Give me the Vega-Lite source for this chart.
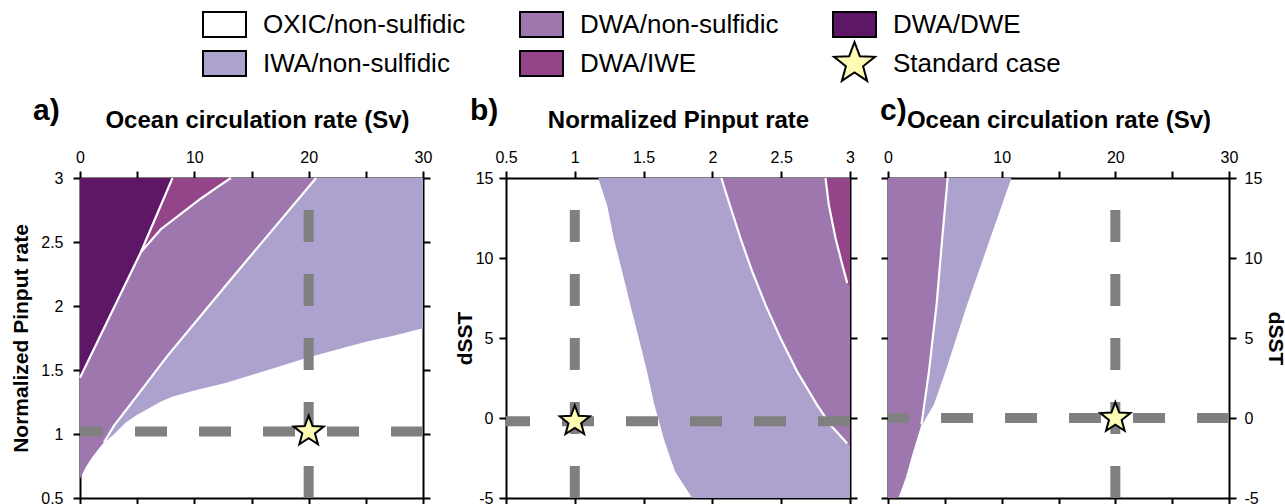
{
  "$schema": "https://vega.github.io/schema/vega-lite/v6.json",
  "padding": {"left": 10, "top": 2, "right": 0, "bottom": 0},
  "background": "white",
  "spacing": 22,
  "config": {
    "view": {"stroke": null},
    "axis": {
      "domainColor": "black", "domainWidth": 2, "tickColor": "black", "tickWidth": 2, "tickSize": 7,
      "labelFont": "Liberation Sans", "labelFontSize": 16, "labelColor": "black", "labelPadding": 6,
      "labelFlush": false, "labelOverlap": false,
      "titleFont": "Liberation Sans", "titleFontWeight": "bold", "titleColor": "black", "grid": false
    },
    "title": {"font": "Liberation Sans", "fontWeight": "bold", "fontSize": 30, "color": "black", "anchor": "start", "frame": "group"}
  },
  "datasets": {
    "legend": [
      {"cat": "OXIC/non-sulfidic"},
      {"cat": "DWA/non-sulfidic"},
      {"cat": "DWA/DWE"},
      {"cat": "IWA/non-sulfidic"},
      {"cat": "DWA/IWE"},
      {"cat": "Standard case"}
    ],
    "a_area": [
      {"r": "IWA", "x": 2.1, "lo": 0.93, "hi": 3}, {"r": "IWA", "x": 3, "lo": 1.0, "hi": 3}, {"r": "IWA", "x": 4, "lo": 1.09, "hi": 3},
      {"r": "IWA", "x": 5, "lo": 1.15, "hi": 3}, {"r": "IWA", "x": 6, "lo": 1.2, "hi": 3}, {"r": "IWA", "x": 7, "lo": 1.25, "hi": 3},
      {"r": "IWA", "x": 8, "lo": 1.29, "hi": 3}, {"r": "IWA", "x": 10, "lo": 1.34, "hi": 3}, {"r": "IWA", "x": 12.8, "lo": 1.4, "hi": 3},
      {"r": "IWA", "x": 15, "lo": 1.46, "hi": 3}, {"r": "IWA", "x": 17.5, "lo": 1.53, "hi": 3}, {"r": "IWA", "x": 20, "lo": 1.6, "hi": 3},
      {"r": "IWA", "x": 22.5, "lo": 1.66, "hi": 3}, {"r": "IWA", "x": 25, "lo": 1.72, "hi": 3}, {"r": "IWA", "x": 27.5, "lo": 1.77, "hi": 3},
      {"r": "IWA", "x": 30, "lo": 1.826, "hi": 3},
      {"r": "DWA", "x": 0, "lo": 0.65, "hi": 3}, {"r": "DWA", "x": 0.5, "lo": 0.74, "hi": 3}, {"r": "DWA", "x": 1, "lo": 0.81, "hi": 3},
      {"r": "DWA", "x": 1.5, "lo": 0.87, "hi": 3}, {"r": "DWA", "x": 2.1, "lo": 0.935, "hi": 3}, {"r": "DWA", "x": 2.98, "lo": 1.065, "hi": 3},
      {"r": "DWA", "x": 5, "lo": 1.3, "hi": 3}, {"r": "DWA", "x": 7.65, "lo": 1.61, "hi": 3}, {"r": "DWA", "x": 10, "lo": 1.863, "hi": 3},
      {"r": "DWA", "x": 13.5, "lo": 2.24, "hi": 3}, {"r": "DWA", "x": 17, "lo": 2.612, "hi": 3}, {"r": "DWA", "x": 20.65, "lo": 3.0, "hi": 3},
      {"r": "IWE", "x": 5.32, "lo": 2.42, "hi": 3}, {"r": "IWE", "x": 7.07, "lo": 2.6, "hi": 3}, {"r": "IWE", "x": 8.82, "lo": 2.72, "hi": 3},
      {"r": "IWE", "x": 10.58, "lo": 2.84, "hi": 3}, {"r": "IWE", "x": 12.04, "lo": 2.93, "hi": 3}, {"r": "IWE", "x": 13.2, "lo": 3.0, "hi": 3},
      {"r": "DWE", "x": 0, "lo": 1.44, "hi": 3}, {"r": "DWE", "x": 2.5, "lo": 1.9, "hi": 3}, {"r": "DWE", "x": 5.32, "lo": 2.42, "hi": 3},
      {"r": "DWE", "x": 8.09, "lo": 3.0, "hi": 3}
    ],
    "a_line": [
      {"l": "dwe", "x": 0, "y": 1.44}, {"l": "dwe", "x": 2.5, "y": 1.9}, {"l": "dwe", "x": 5.32, "y": 2.42}, {"l": "dwe", "x": 8.09, "y": 3.0},
      {"l": "iwe", "x": 5.32, "y": 2.42}, {"l": "iwe", "x": 7.07, "y": 2.6}, {"l": "iwe", "x": 8.82, "y": 2.72},
      {"l": "iwe", "x": 10.58, "y": 2.84}, {"l": "iwe", "x": 12.04, "y": 2.93}, {"l": "iwe", "x": 13.2, "y": 3.0},
      {"l": "iwa", "x": 2.1, "y": 0.935}, {"l": "iwa", "x": 2.98, "y": 1.065}, {"l": "iwa", "x": 5, "y": 1.3},
      {"l": "iwa", "x": 7.65, "y": 1.61}, {"l": "iwa", "x": 10, "y": 1.863}, {"l": "iwa", "x": 13.5, "y": 2.24},
      {"l": "iwa", "x": 17, "y": 2.612}, {"l": "iwa", "x": 20.65, "y": 3.0}
    ],
    "a_ref": [{"xv": 20, "yh": 1.02, "ylo": 0.5, "yhi": 3}],
    "b_area": [
      {"r": "IWA", "y": 15, "xlo": 1.17, "xhi": 3}, {"r": "IWA", "y": 13.33, "xlo": 1.234, "xhi": 3}, {"r": "IWA", "y": 11.24, "xlo": 1.283, "xhi": 3},
      {"r": "IWA", "y": 9.16, "xlo": 1.344, "xhi": 3}, {"r": "IWA", "y": 7.07, "xlo": 1.404, "xhi": 3}, {"r": "IWA", "y": 4.98, "xlo": 1.465, "xhi": 3},
      {"r": "IWA", "y": 2.9, "xlo": 1.525, "xhi": 3}, {"r": "IWA", "y": 0.81, "xlo": 1.578, "xhi": 3}, {"r": "IWA", "y": -0.13, "xlo": 1.61, "xhi": 3},
      {"r": "IWA", "y": -1.28, "xlo": 1.646, "xhi": 3}, {"r": "IWA", "y": -2.53, "xlo": 1.695, "xhi": 3}, {"r": "IWA", "y": -3.37, "xlo": 1.731, "xhi": 3},
      {"r": "IWA", "y": -4.83, "xlo": 1.84, "xhi": 3}, {"r": "IWA", "y": -5, "xlo": 1.855, "xhi": 3},
      {"r": "DWA", "y": 15, "xlo": 2.065, "xhi": 3}, {"r": "DWA", "y": 13.33, "xlo": 2.126, "xhi": 3}, {"r": "DWA", "y": 11.24, "xlo": 2.204, "xhi": 3},
      {"r": "DWA", "y": 9.16, "xlo": 2.289, "xhi": 3}, {"r": "DWA", "y": 7.07, "xlo": 2.386, "xhi": 3}, {"r": "DWA", "y": 4.98, "xlo": 2.495, "xhi": 3},
      {"r": "DWA", "y": 2.9, "xlo": 2.616, "xhi": 3}, {"r": "DWA", "y": 0.81, "xlo": 2.762, "xhi": 3}, {"r": "DWA", "y": -0.44, "xlo": 2.858, "xhi": 3},
      {"r": "DWA", "y": -1.59, "xlo": 2.98, "xhi": 3}, {"r": "DWA", "y": -1.75, "xlo": 3.0, "xhi": 3},
      {"r": "IWE", "y": 15, "xlo": 2.822, "xhi": 3}, {"r": "IWE", "y": 13.33, "xlo": 2.846, "xhi": 3}, {"r": "IWE", "y": 11.24, "xlo": 2.895, "xhi": 3},
      {"r": "IWE", "y": 9.58, "xlo": 2.944, "xhi": 3}, {"r": "IWE", "y": 8.43, "xlo": 2.98, "xhi": 3}, {"r": "IWE", "y": 8.2, "xlo": 3.0, "xhi": 3}
    ],
    "b_line": [
      {"l": "dwa", "y": 15, "x": 2.065}, {"l": "dwa", "y": 13.33, "x": 2.126}, {"l": "dwa", "y": 11.24, "x": 2.204},
      {"l": "dwa", "y": 9.16, "x": 2.289}, {"l": "dwa", "y": 7.07, "x": 2.386}, {"l": "dwa", "y": 4.98, "x": 2.495},
      {"l": "dwa", "y": 2.9, "x": 2.616}, {"l": "dwa", "y": 0.81, "x": 2.762}, {"l": "dwa", "y": -0.44, "x": 2.858},
      {"l": "dwa", "y": -1.59, "x": 2.98},
      {"l": "iwe", "y": 15, "x": 2.822}, {"l": "iwe", "y": 13.33, "x": 2.846}, {"l": "iwe", "y": 11.24, "x": 2.895},
      {"l": "iwe", "y": 9.58, "x": 2.944}, {"l": "iwe", "y": 8.43, "x": 2.98}
    ],
    "b_ref": [{"xv": 1.0, "yh": -0.2, "ylo": -5, "yhi": 15}],
    "c_area": [
      {"r": "IWA", "y": -0.4, "xr": 3.02, "xl": 0}, {"r": "IWA", "y": 0.86, "xr": 4.05, "xl": 0}, {"r": "IWA", "y": 2.94, "xr": 5.07, "xl": 0},
      {"r": "IWA", "y": 7.13, "xr": 6.98, "xl": 0}, {"r": "IWA", "y": 11.3, "xr": 9.03, "xl": 0}, {"r": "IWA", "y": 14.86, "xr": 10.79, "xl": 0},
      {"r": "IWA", "y": 15, "xr": 10.85, "xl": 0},
      {"r": "DWA", "y": -5, "xr": 0.9, "xl": 0}, {"r": "DWA", "y": -4.89, "xr": 0.97, "xl": 0}, {"r": "DWA", "y": -3.75, "xr": 1.56, "xl": 0},
      {"r": "DWA", "y": -2.28, "xr": 2.14, "xl": 0}, {"r": "DWA", "y": -0.4, "xr": 2.94, "xl": 0}, {"r": "DWA", "y": 0.02, "xr": 3.03, "xl": 0},
      {"r": "DWA", "y": 2.94, "xr": 3.61, "xl": 0}, {"r": "DWA", "y": 7.13, "xr": 4.28, "xl": 0}, {"r": "DWA", "y": 11.3, "xr": 4.78, "xl": 0},
      {"r": "DWA", "y": 14.86, "xr": 5.22, "xl": 0}, {"r": "DWA", "y": 15, "xr": 5.25, "xl": 0}
    ],
    "c_line": [
      {"l": "dwa", "y": -0.4, "x": 2.94}, {"l": "dwa", "y": 0.02, "x": 3.03}, {"l": "dwa", "y": 2.94, "x": 3.61},
      {"l": "dwa", "y": 7.13, "x": 4.28}, {"l": "dwa", "y": 11.3, "x": 4.78}, {"l": "dwa", "y": 15, "x": 5.25}
    ],
    "c_ref": [{"xv": 20, "yh": 0, "ylo": -5, "yhi": 15}]
  },
  "hconcat": [
    {
      "width": 343, "height": 320,
      "title": {"text": "a)", "dx": -47, "dy": 22},
      "resolve": {"axis": {"x": "independent", "y": "independent"}},
      "layer": [
        {
          "data": {"name": "a_area"},
          "transform": [{"filter": "datum.r === 'IWA'"}],
          "mark": {"type": "area", "fill": "#ada2cd"},
          "encoding": {
            "x": {"field": "x", "type": "quantitative", "scale": {"domain": [0, 30], "nice": false, "zero": false},
                  "axis": {"orient": "top", "values": [0, 5, 10, 15, 20, 25, 30], "labelExpr": "datum.value % 10 === 0 ? '' + datum.value : ''",
                           "title": "Ocean circulation rate (Sv)", "titleFontSize": 24, "titlePadding": 17, "titleX": 177}},
            "y": {"field": "lo", "type": "quantitative", "scale": {"domain": [0.5, 3], "nice": false, "zero": false},
                  "axis": {"orient": "left", "values": [0.5, 1, 1.5, 2, 2.5, 3], "labelExpr": "'' + datum.value", "labelPadding": 10,
                           "title": "Normalized Pinput rate", "titleFontSize": 21, "titlePadding": 9}},
            "y2": {"field": "hi"}
          }
        },
        {
          "data": {"name": "a_area"},
          "transform": [{"filter": "datum.r === 'DWA'"}],
          "mark": {"type": "area", "fill": "#9d77ad"},
          "encoding": {
            "x": {"field": "x", "type": "quantitative", "axis": {"orient": "bottom", "values": [0, 5, 10, 15, 20, 25, 30], "labels": false, "title": null}},
            "y": {"field": "lo", "type": "quantitative", "axis": {"orient": "right", "values": [0.5, 1, 1.5, 2, 2.5, 3], "labels": false, "title": null}},
            "y2": {"field": "hi"}
          }
        },
        {
          "data": {"name": "a_area"},
          "transform": [{"filter": "datum.r === 'IWE'"}],
          "mark": {"type": "area", "fill": "#944489"},
          "encoding": {
            "x": {"field": "x", "type": "quantitative", "axis": null},
            "y": {"field": "lo", "type": "quantitative", "axis": null},
            "y2": {"field": "hi"}
          }
        },
        {
          "data": {"name": "a_area"},
          "transform": [{"filter": "datum.r === 'DWE'"}],
          "mark": {"type": "area", "fill": "#5d1766"},
          "encoding": {
            "x": {"field": "x", "type": "quantitative", "axis": null},
            "y": {"field": "lo", "type": "quantitative", "axis": null},
            "y2": {"field": "hi"}
          }
        },
        {
          "data": {"name": "a_line"},
          "mark": {"type": "line", "stroke": "white", "strokeWidth": 2.2},
          "encoding": {
            "x": {"field": "x", "type": "quantitative", "axis": null},
            "y": {"field": "y", "type": "quantitative", "axis": null},
            "detail": {"field": "l", "type": "nominal"}
          }
        },
        {
          "data": {"name": "a_ref"},
          "mark": {"type": "rule", "stroke": "#808080", "strokeWidth": 10, "strokeDash": [32, 32]},
          "encoding": {"y": {"field": "yh", "type": "quantitative", "axis": null}}
        },
        {
          "data": {"name": "a_ref"},
          "mark": {"type": "rule", "stroke": "#808080", "strokeWidth": 10, "strokeDash": [32, 32]},
          "encoding": {
            "x": {"field": "xv", "type": "quantitative", "axis": null},
            "y": {"field": "ylo", "type": "quantitative", "axis": null},
            "y2": {"field": "yhi"}
          }
        },
        {
          "data": {"name": "a_ref"},
          "mark": {"type": "point", "shape": "M0,-1L0.247,-0.34L0.951,-0.309L0.4,0.13L0.588,0.809L0,0.42L-0.588,0.809L-0.4,0.13L-0.951,-0.309L-0.247,-0.34Z", "size": 1000, "filled": true, "fill": "#fefbb5", "stroke": "black", "strokeWidth": 2, "opacity": 1},
          "encoding": {
            "x": {"field": "xv", "type": "quantitative", "axis": null},
            "y": {"field": "yh", "type": "quantitative", "axis": null}
          }
        },
        {
          "data": {"name": "legend"},
          "mark": {"type": "point", "filled": true, "opacity": 0, "stroke": "black", "strokeWidth": 2},
          "encoding": {
            "fill": {"field": "cat", "type": "nominal",
              "scale": {"domain": ["OXIC/non-sulfidic", "DWA/non-sulfidic", "DWA/DWE", "IWA/non-sulfidic", "DWA/IWE", "Standard case"],
                        "range": ["#ffffff", "#9d77ad", "#5d1766", "#ada2cd", "#944489", "#fefbb5"]},
              "legend": {"orient": "none", "legendX": 122, "legendY": -176, "direction": "horizontal", "columns": 3, "title": null,
                         "symbolSize": 1849, "symbolStrokeColor": "black", "symbolStrokeWidth": 2, "symbolOpacity": 1, "symbolFillColor": "white",
                         "labelFont": "Liberation Sans", "labelFontSize": 26, "labelColor": "black", "labelOffset": 16,
                         "columnPadding": 50, "rowPadding": -7, "labelLimit": 400, "padding": 0}},
            "shape": {"field": "cat", "type": "nominal",
              "scale": {"domain": ["OXIC/non-sulfidic", "DWA/non-sulfidic", "DWA/DWE", "IWA/non-sulfidic", "DWA/IWE", "Standard case"],
                        "range": ["M-1,-0.58H1V0.58H-1Z", "M-1,-0.58H1V0.58H-1Z", "M-1,-0.58H1V0.58H-1Z", "M-1,-0.58H1V0.58H-1Z", "M-1,-0.58H1V0.58H-1Z",
                                  "M0,-1L0.247,-0.34L0.951,-0.309L0.4,0.13L0.588,0.809L0,0.42L-0.588,0.809L-0.4,0.13L-0.951,-0.309L-0.247,-0.34Z"]},
              "legend": {"orient": "none", "legendX": 122, "legendY": -176, "direction": "horizontal", "columns": 3, "title": null,
                         "symbolSize": 1849, "symbolStrokeColor": "black", "symbolStrokeWidth": 2, "symbolOpacity": 1, "symbolFillColor": "white",
                         "labelFont": "Liberation Sans", "labelFontSize": 26, "labelColor": "black", "labelOffset": 16,
                         "columnPadding": 50, "rowPadding": -7, "labelLimit": 400, "padding": 0}}
          }
        }
      ]
    },
    {
      "width": 344, "height": 320,
      "title": {"text": "b)", "dx": -36, "dy": 22},
      "resolve": {"axis": {"x": "independent", "y": "independent"}},
      "layer": [
        {
          "data": {"name": "b_area"},
          "transform": [{"filter": "datum.r === 'IWA'"}],
          "mark": {"type": "area", "fill": "#ada2cd", "orient": "horizontal"},
          "encoding": {
            "y": {"field": "y", "type": "quantitative", "scale": {"domain": [-5, 15], "nice": false, "zero": false},
                  "axis": {"orient": "left", "values": [-5, 0, 5, 10, 15], "labelExpr": "'' + datum.value",
                           "title": "dSST", "titleFontSize": 21, "titlePadding": 0}},
            "x": {"field": "xlo", "type": "quantitative", "scale": {"domain": [0.5, 3], "nice": false, "zero": false},
                  "axis": {"orient": "top", "values": [0.5, 1, 1.5, 2, 2.5, 3], "labelExpr": "'' + datum.value",
                           "title": "Normalized Pinput rate", "titleFontSize": 24, "titlePadding": 17}},
            "x2": {"field": "xhi"}
          }
        },
        {
          "data": {"name": "b_area"},
          "transform": [{"filter": "datum.r === 'DWA'"}],
          "mark": {"type": "area", "fill": "#9d77ad", "orient": "horizontal"},
          "encoding": {
            "y": {"field": "y", "type": "quantitative", "axis": {"orient": "right", "values": [-5, 0, 5, 10, 15], "labels": false, "title": null}},
            "x": {"field": "xlo", "type": "quantitative", "axis": {"orient": "bottom", "values": [0.5, 1, 1.5, 2, 2.5, 3], "labels": false, "title": null}},
            "x2": {"field": "xhi"}
          }
        },
        {
          "data": {"name": "b_area"},
          "transform": [{"filter": "datum.r === 'IWE'"}],
          "mark": {"type": "area", "fill": "#944489", "orient": "horizontal"},
          "encoding": {
            "y": {"field": "y", "type": "quantitative", "axis": null},
            "x": {"field": "xlo", "type": "quantitative", "axis": null},
            "x2": {"field": "xhi"}
          }
        },
        {
          "data": {"name": "b_line"},
          "mark": {"type": "line", "stroke": "white", "strokeWidth": 2.2},
          "encoding": {
            "x": {"field": "x", "type": "quantitative", "axis": null},
            "y": {"field": "y", "type": "quantitative", "axis": null},
            "detail": {"field": "l", "type": "nominal"}
          }
        },
        {
          "data": {"name": "b_ref"},
          "mark": {"type": "rule", "stroke": "#808080", "strokeWidth": 10, "strokeDash": [32, 32]},
          "encoding": {"y": {"field": "yh", "type": "quantitative", "axis": null}}
        },
        {
          "data": {"name": "b_ref"},
          "mark": {"type": "rule", "stroke": "#808080", "strokeWidth": 10, "strokeDash": [32, 32]},
          "encoding": {
            "x": {"field": "xv", "type": "quantitative", "axis": null},
            "y": {"field": "ylo", "type": "quantitative", "axis": null},
            "y2": {"field": "yhi"}
          }
        },
        {
          "data": {"name": "b_ref"},
          "mark": {"type": "point", "shape": "M0,-1L0.247,-0.34L0.951,-0.309L0.4,0.13L0.588,0.809L0,0.42L-0.588,0.809L-0.4,0.13L-0.951,-0.309L-0.247,-0.34Z", "size": 1000, "filled": true, "fill": "#fefbb5", "stroke": "black", "strokeWidth": 2, "opacity": 1},
          "encoding": {
            "x": {"field": "xv", "type": "quantitative", "axis": null},
            "y": {"field": "yh", "type": "quantitative", "axis": null}
          }
        }
      ]
    },
    {
      "width": 341, "height": 320,
      "title": {"text": "c)", "dx": -8, "dy": 22},
      "resolve": {"axis": {"x": "independent", "y": "independent"}},
      "layer": [
        {
          "data": {"name": "c_area"},
          "transform": [{"filter": "datum.r === 'IWA'"}],
          "mark": {"type": "area", "fill": "#ada2cd", "orient": "horizontal"},
          "encoding": {
            "y": {"field": "y", "type": "quantitative", "scale": {"domain": [-5, 15], "nice": false, "zero": false},
                  "axis": {"orient": "right", "values": [-5, 0, 5, 10, 15], "labelExpr": "'' + datum.value", "labelPadding": 8,
                           "title": "dSST", "titleFontSize": 21, "titlePadding": 3}},
            "x": {"field": "xr", "type": "quantitative", "scale": {"domain": [0, 30], "nice": false, "zero": false},
                  "axis": {"orient": "top", "values": [0, 5, 10, 15, 20, 25, 30], "labelExpr": "datum.value % 10 === 0 ? '' + datum.value : ''",
                           "title": "Ocean circulation rate (Sv)", "titleFontSize": 24, "titlePadding": 17}},
            "x2": {"field": "xl"}
          }
        },
        {
          "data": {"name": "c_area"},
          "transform": [{"filter": "datum.r === 'DWA'"}],
          "mark": {"type": "area", "fill": "#9d77ad", "orient": "horizontal"},
          "encoding": {
            "y": {"field": "y", "type": "quantitative", "axis": {"orient": "left", "values": [-5, 0, 5, 10, 15], "labels": false, "title": null}},
            "x": {"field": "xr", "type": "quantitative", "axis": {"orient": "bottom", "values": [0, 5, 10, 15, 20, 25, 30], "labels": false, "title": null}},
            "x2": {"field": "xl"}
          }
        },
        {
          "data": {"name": "c_line"},
          "mark": {"type": "line", "stroke": "white", "strokeWidth": 2.2},
          "encoding": {
            "x": {"field": "x", "type": "quantitative", "axis": null},
            "y": {"field": "y", "type": "quantitative", "axis": null},
            "detail": {"field": "l", "type": "nominal"}
          }
        },
        {
          "data": {"name": "c_ref"},
          "mark": {"type": "rule", "stroke": "#808080", "strokeWidth": 10, "strokeDash": [32, 32]},
          "encoding": {"y": {"field": "yh", "type": "quantitative", "axis": null}}
        },
        {
          "data": {"name": "c_ref"},
          "mark": {"type": "rule", "stroke": "#808080", "strokeWidth": 10, "strokeDash": [32, 32]},
          "encoding": {
            "x": {"field": "xv", "type": "quantitative", "axis": null},
            "y": {"field": "ylo", "type": "quantitative", "axis": null},
            "y2": {"field": "yhi"}
          }
        },
        {
          "data": {"name": "c_ref"},
          "mark": {"type": "point", "shape": "M0,-1L0.247,-0.34L0.951,-0.309L0.4,0.13L0.588,0.809L0,0.42L-0.588,0.809L-0.4,0.13L-0.951,-0.309L-0.247,-0.34Z", "size": 1000, "filled": true, "fill": "#fefbb5", "stroke": "black", "strokeWidth": 2, "opacity": 1},
          "encoding": {
            "x": {"field": "xv", "type": "quantitative", "axis": null},
            "y": {"field": "yh", "type": "quantitative", "axis": null}
          }
        }
      ]
    }
  ]
}
